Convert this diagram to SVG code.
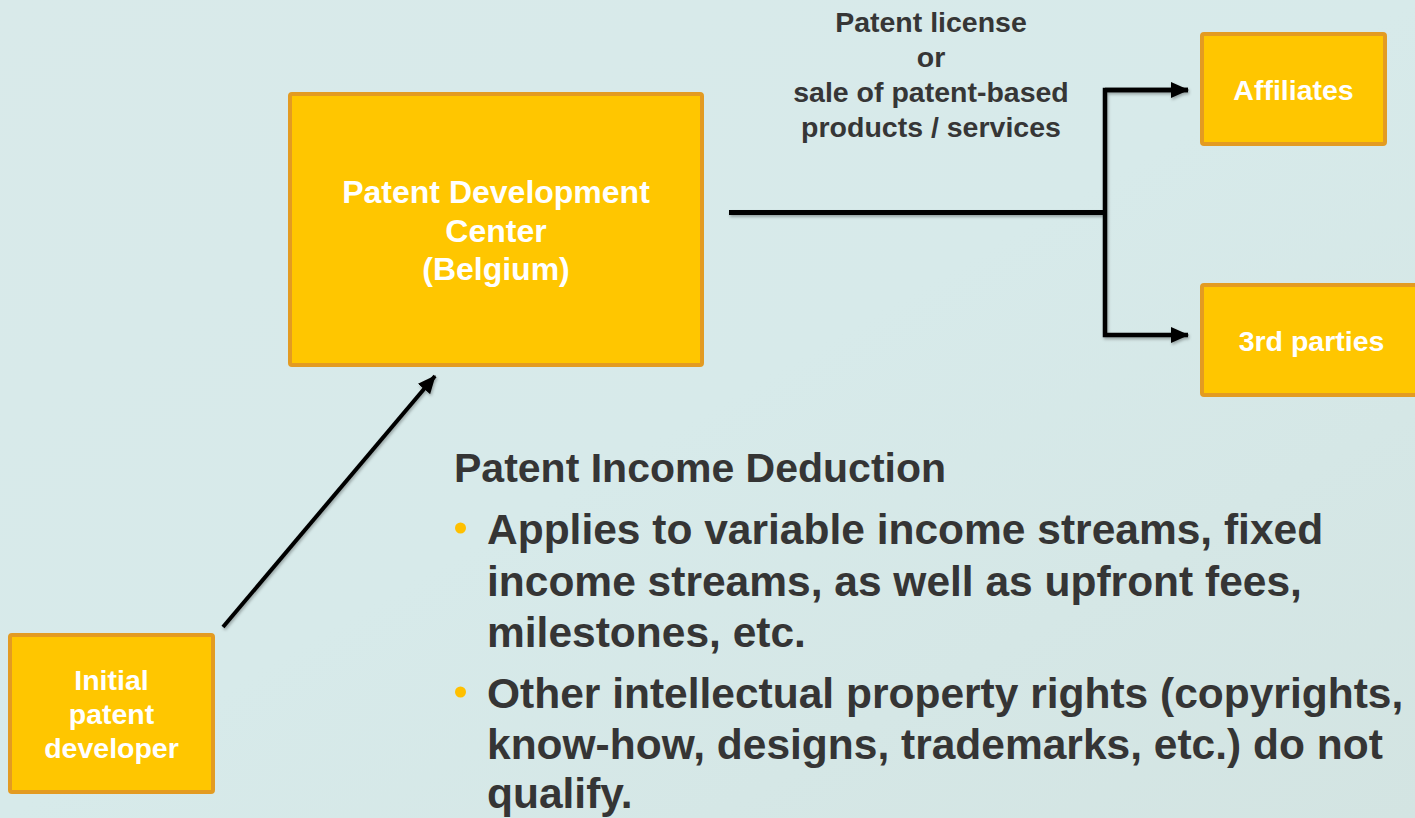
<svg xmlns="http://www.w3.org/2000/svg" width="1415" height="818" viewBox="0 0 1415 818">
  <defs>
    <style>
      .box { fill: #FFC600; stroke: #E39B22; stroke-width: 4; }
      .boxtext { font-family: "Liberation Sans", Arial, sans-serif; font-weight: bold; fill: #FFFFFF; text-anchor: middle; }
      .label { font-family: "Liberation Sans", Arial, sans-serif; font-weight: bold; fill: #363636; text-anchor: middle; font-size: 28.5px; }
      .body { font-family: "Liberation Sans", Arial, sans-serif; font-weight: bold; fill: #353535; }
      .conn { fill: none; stroke: #000000; }
    </style>
    <linearGradient id="bg" x1="0" y1="0" x2="1" y2="1">
      <stop offset="0" stop-color="#d9eaea"/>
      <stop offset="0.5" stop-color="#d7eaea"/>
      <stop offset="1" stop-color="#d3e4e2"/>
    </linearGradient>
    <marker id="arrow" markerUnits="userSpaceOnUse" markerWidth="18" markerHeight="16" refX="17" refY="8" orient="auto">
      <path d="M0,0 L18,8 L0,16 Z" fill="#000000"/>
    </marker>
    <filter id="shadow" x="-10%" y="-10%" width="120%" height="130%">
      <feDropShadow dx="1" dy="2" stdDeviation="1.5" flood-color="#000000" flood-opacity="0.3"/>
    </filter>
  </defs>

  <rect x="0" y="0" width="1415" height="818" fill="url(#bg)"/>

  <g id="connectors" filter="url(#shadow)">
    <line class="conn" x1="729" y1="212.5" x2="1105" y2="212.5" stroke-width="5"/>
    <polyline class="conn" points="1188,90 1105,90 1105,335 1188,335" stroke-width="4.5" marker-start="url(#arrow)" marker-end="url(#arrow)" style="marker-start: none"/>
    <line class="conn" x1="1105" y1="90" x2="1188" y2="90" stroke-width="4.5" marker-end="url(#arrow)"/>
    <line class="conn" x1="223" y1="627" x2="435" y2="376" stroke-width="4" marker-end="url(#arrow)"/>
  </g>

  <g id="node-pdc">
    <rect class="box" x="290" y="94" width="412" height="271" rx="2"/>
    <text class="boxtext" font-size="32" x="496" y="203">Patent Development</text>
    <text class="boxtext" font-size="32" x="496" y="241.5">Center</text>
    <text class="boxtext" font-size="32" x="496" y="280">(Belgium)</text>
  </g>

  <g id="node-affiliates">
    <rect class="box" x="1202" y="34" width="183" height="110" rx="2"/>
    <text class="boxtext" font-size="28.5" x="1293.5" y="100">Affiliates</text>
  </g>

  <g id="node-third">
    <rect class="box" x="1202" y="285" width="221" height="110" rx="2"/>
    <text class="boxtext" font-size="28.5" x="1311.5" y="351">3rd parties</text>
  </g>

  <g id="node-initial">
    <rect class="box" x="10" y="635" width="203" height="157" rx="2"/>
    <text class="boxtext" font-size="28.5" x="111.5" y="690">Initial</text>
    <text class="boxtext" font-size="28.5" x="111.5" y="724">patent</text>
    <text class="boxtext" font-size="28.5" x="111.5" y="758">developer</text>
  </g>

  <g id="label-license">
    <text class="label" x="931" y="32">Patent license</text>
    <text class="label" x="931" y="67">or</text>
    <text class="label" x="931" y="102">sale of patent-based</text>
    <text class="label" x="931" y="137">products / services</text>
  </g>

  <g id="text-deduction">
    <text class="body" font-size="41" x="454" y="482">Patent Income Deduction</text>
    <circle cx="460.5" cy="528" r="5.5" fill="#FFC000"/>
    <text class="body" font-size="42.5" x="487" y="544">Applies to variable income streams, fixed</text>
    <text class="body" font-size="42.5" x="487" y="595.5">income streams, as well as upfront fees,</text>
    <text class="body" font-size="42.5" x="487" y="647">milestones, etc.</text>
    <circle cx="460.5" cy="692" r="5.5" fill="#FFC000"/>
    <text class="body" font-size="42.5" x="487" y="708">Other intellectual property rights (copyrights,</text>
    <text class="body" font-size="42.5" x="487" y="759">know-how, designs, trademarks, etc.) do not</text>
    <text class="body" font-size="42.5" x="487" y="808">qualify.</text>
  </g>
</svg>
